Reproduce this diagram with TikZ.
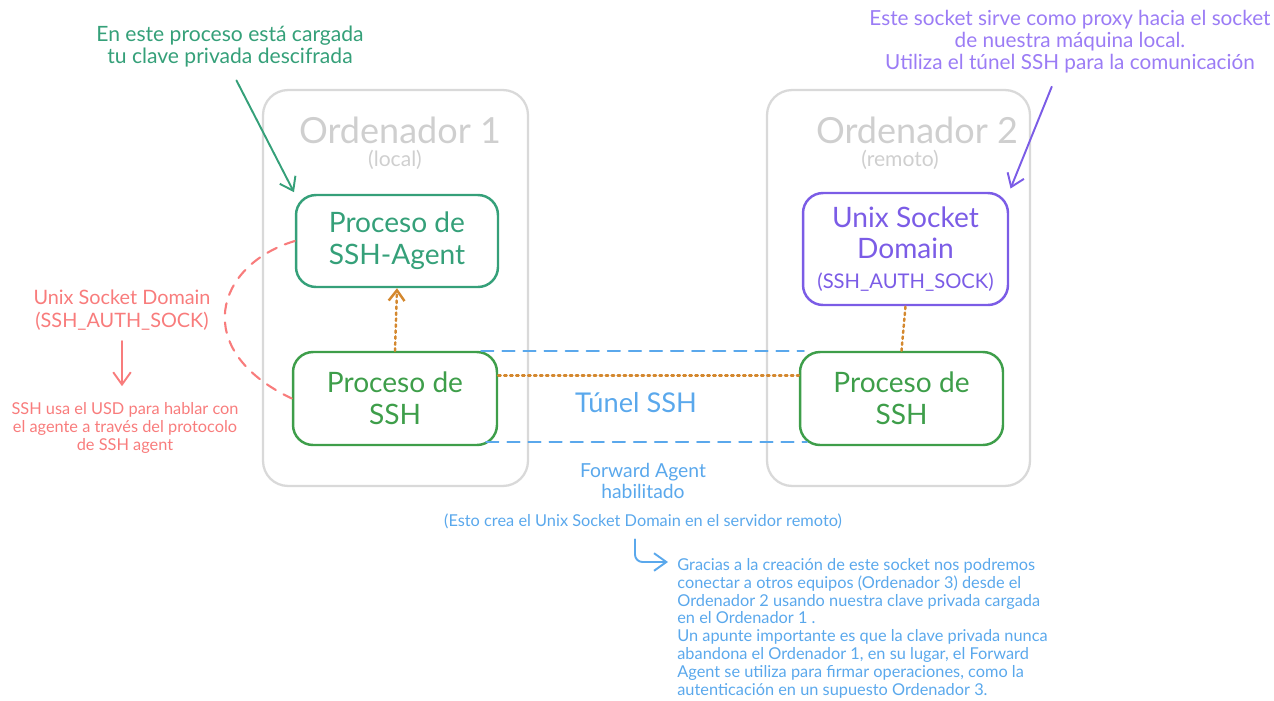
\documentclass[tikz,border=0pt]{standalone}
\usepackage{fontspec}
\setmainfont{Lato}
\usetikzlibrary{arrows.meta}
\definecolor{grayline}{HTML}{D9D9D9}
\definecolor{graytext}{HTML}{CFCFCF}
\definecolor{tealc}{HTML}{35A079}
\definecolor{greenc}{HTML}{3E9E4A}
\definecolor{purplec}{HTML}{7B5CE6}
\definecolor{purpletext}{HTML}{9B7CF5}
\definecolor{redc}{HTML}{F87C7C}
\definecolor{bluec}{HTML}{5AA8EC}
\definecolor{orangec}{HTML}{D4882E}

\begin{document}
\begin{tikzpicture}[x=0.02cm, y=-0.02cm, line cap=round,
    pcbox/.style={draw=grayline, line width=1.3pt, rounded corners=0.5cm, inner sep=0pt},
    procbox/.style={draw, line width=1.4pt, rounded corners=0.4cm, align=center, inner sep=0pt,
      font=\fontsize{16}{18}\selectfont},
    pctitle/.style={text=graytext, font=\fontsize{20.5}{22}\selectfont},
    pcsub/.style={text=graytext, font=\fontsize{12}{13}\selectfont},
    orangedot/.style={draw=orangec, dotted, line width=1.4pt},
    tunnel/.style={draw=bluec, dash pattern=on 7pt off 5pt, line width=1.1pt},
    hand/.style={-{Straight Barb[length=7pt,width=10pt]}, line width=1.1pt},
    note/.style={align=center, inner sep=0pt}]
  \useasboundingbox (0,0) rectangle (1274,700);

  % ordenadores
  \node[pcbox, minimum width=5.3cm, minimum height=7.92cm] (pc1) at (395.5,288) {};
  \node[pcbox, minimum width=5.26cm, minimum height=7.92cm] (pc2) at (898.5,288) {};
  \node[pctitle] (t1) at (400,130) {Ordenador 1};
  \node[pcsub] (t1sub) at (395,160) {(local)};
  \node[pctitle] (t2) at (917,130) {Ordenador 2};
  \node[pcsub] (t2sub) at (900,160) {(remoto)};

  % procesos
  \node[procbox, draw=tealc, text=tealc, minimum width=4.04cm, minimum height=1.84cm]
    (agent) at (397,241) {Proceso de\\SSH-Agent};
  \node[procbox, draw=greenc, text=greenc, minimum width=4.08cm, minimum height=1.86cm]
    (ssh1) at (395,398.5) {Proceso de\\SSH};
  \node[procbox, draw=purplec, text=purplec, minimum width=4.1cm, minimum height=2.24cm]
    (sock) at (905.5,249) {Unix Socket\\Domain\\[-1pt]{\fontsize{11.5}{13}\selectfont(SSH\_AUTH\_SOCK)}};
  \node[procbox, draw=greenc, text=greenc, minimum width=4.06cm, minimum height=1.86cm]
    (ssh2) at (901.5,398.5) {Proceso de\\SSH};

  % conexiones
  \draw[orangedot, -{Straight Barb[length=6pt,width=9pt]}] (ssh1.north) -- (agent.south);
  \draw[orangedot] (ssh2.north) -- (sock.south);
  \draw[orangedot] ([yshift=0.46cm]ssh1.east) -- ([yshift=0.46cm]ssh2.west);
  \draw[tunnel] ([xshift=-0.34cm]ssh1.north east) -- ([xshift=0.1cm]ssh2.north west);
  \draw[tunnel] ([xshift=-0.24cm,yshift=0.08cm]ssh1.south east) -- ([xshift=0.16cm,yshift=0.08cm]ssh2.south west);

  % tunel
  \node[text=bluec, font=\fontsize{15.5}{17}\selectfont] (tunel) at (636,403) {Túnel SSH};
  \node[note, text=bluec, font=\fontsize{11}{12}\selectfont] (fwd) at (643,481) {Forward Agent\\habilitado};
  \node[note, text=bluec, font=\fontsize{9.3}{10}\selectfont] (esto) at (643,521)
    {(Esto crea el Unix Socket Domain en el servidor remoto)};
  \coordinate (notetip) at (668,562);
  \draw[bluec, hand, rounded corners=0.15cm, shorten <=6pt] ([xshift=-0.16cm]esto.south) |- (notetip);
  \node[align=left, inner sep=0pt, anchor=north west, text=bluec, font=\fontsize{9.3}{10.15}\selectfont]
    (gracias) at (677,558)
    {Gracias a la creación de este socket nos podremos\\
     conectar a otros equipos (Ordenador 3) desde el\\
     Ordenador 2 usando nuestra clave privada cargada\\
     en el Ordenador 1 .\\
     Un apunte importante es que la clave privada nunca\\
     abandona el Ordenador 1, en su lugar, el Forward\\
     Agent se utiliza para firmar operaciones, como la\\
     autenticación en un supuesto Ordenador 3.};

  % anotaciones
  \node[note, text=tealc, font=\fontsize{12}{12.5}\selectfont] (keynote) at (230,47)
    {En este proceso está cargada\\tu clave privada descifrada};
  \draw[tealc, hand, shorten <=8pt, shorten >=1pt] (keynote.south) -- (agent.north west);

  \node[note, text=purpletext, font=\fontsize{11.8}{12.5}\selectfont] (proxynote) at (1070,42)
    {Este socket sirve como proxy hacia el socket\\de nuestra máquina local.\\Utiliza el túnel SSH para la comunicación};
  \draw[purplec, hand, shorten <=8pt, shorten >=2pt] ([xshift=-0.26cm]proxynote.south) -- (sock.north east);

  \node[note, text=redc, font=\fontsize{11.3}{13}\selectfont] (usdlabel) at (122,310)
    {Unix Socket Domain\\(SSH\_AUTH\_SOCK)};
  \node[note, anchor=north, text=redc, font=\fontsize{9.3}{10.2}\selectfont] (usdnote) at (125,402)
    {SSH usa el USD para hablar con\\el agente a través del protocolo\\de SSH agent};
  \draw[redc, hand, shorten <=6pt, shorten >=9pt] (usdlabel.south) -- (usdlabel.south |- usdnote.north);
  \draw[redc, dashed, line width=1.2pt, dash pattern=on 6pt off 5pt]
    (agent.west) .. controls (215,265) and (190,350) .. (ssh1.west);
\end{tikzpicture}
\end{document}
